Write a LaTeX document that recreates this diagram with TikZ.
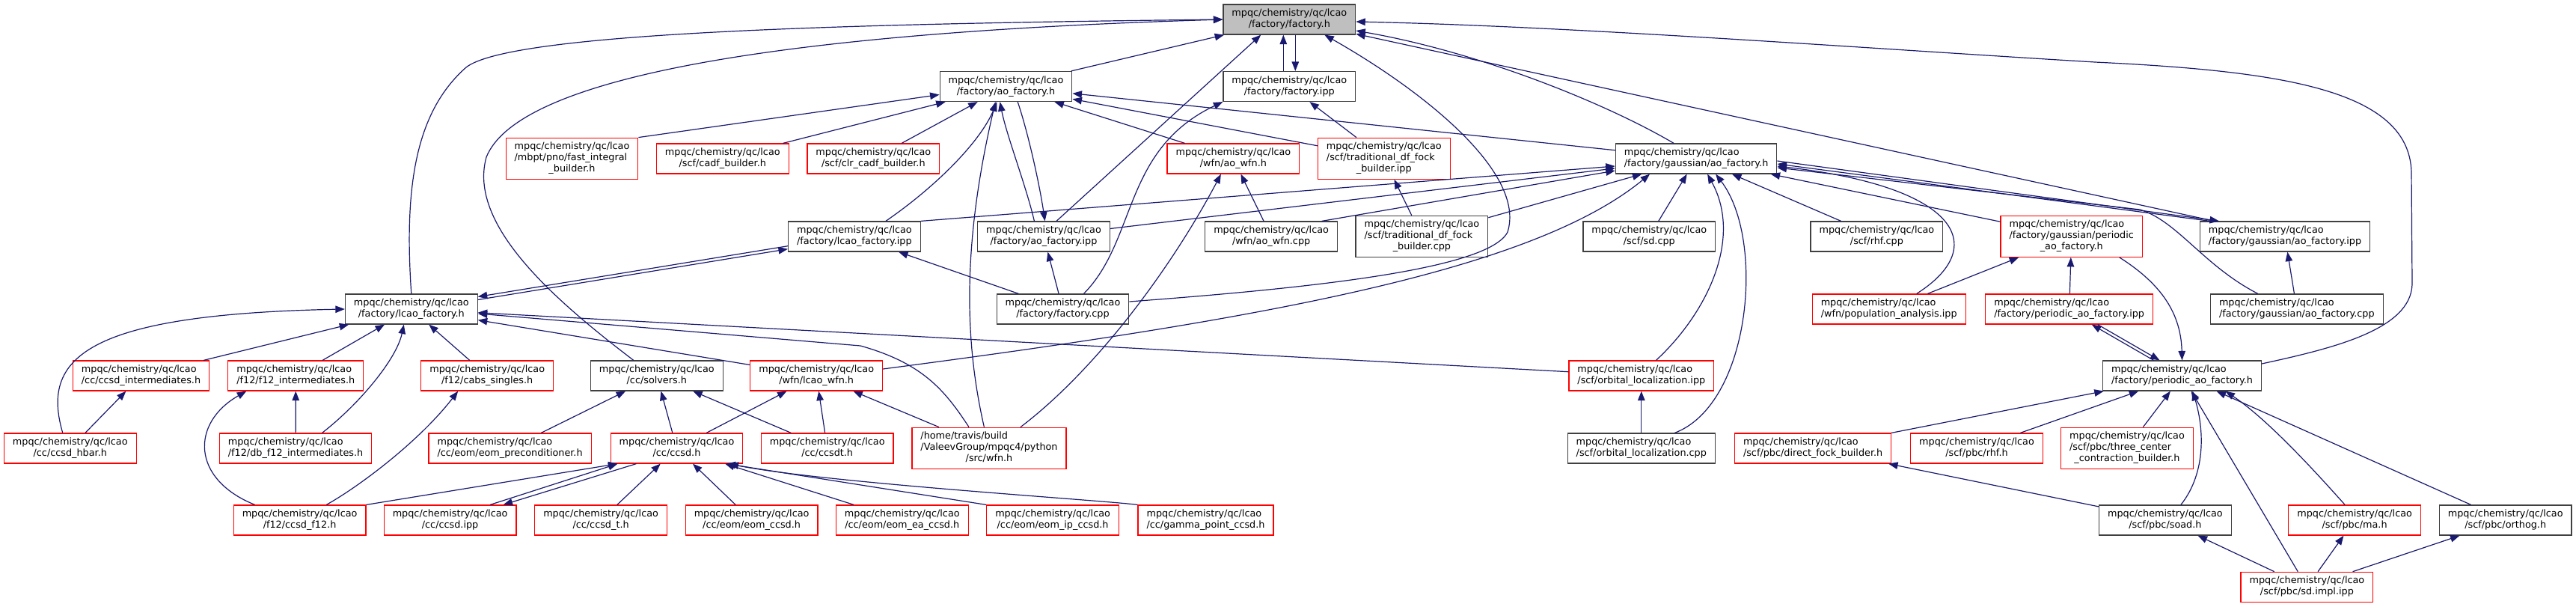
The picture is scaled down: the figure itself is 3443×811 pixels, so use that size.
\documentclass[tikz,border=0pt]{standalone}
\usepackage{fontspec}
\setmainfont{DejaVu Sans}
\usepackage{tikz}
\usetikzlibrary{arrows.meta}
\definecolor{edgec}{RGB}{25,25,112}
\newcommand{\flab}[1]{\begin{tabular}{@{}l@{}}mpqc/chemistry/qc/lcao\\\multicolumn{1}{@{}c@{}}{#1}\end{tabular}}
\newcommand{\flabc}[3]{\begin{tabular}{@{}l@{}}#1\\#2\\\multicolumn{1}{@{}c@{}}{#3}\end{tabular}}
\begin{document}
\begin{tikzpicture}[x=1pt,y=-1pt,
  box/.style={draw=black!75,fill=white,line width=1.2pt,inner xsep=11.5pt,inner ysep=5pt,font=\fontsize{12.8}{15}\selectfont},
  rbox/.style={box,draw=red},
  root/.style={box,fill=black!25},
  inc/.style={draw=edgec,line width=1.2pt,-{Triangle[length=12.5pt,width=9.5pt]}}]
\useasboundingbox (0,0) rectangle (3443,811);
% row 0 to 2
\node[root] (fac) at (1723.3,26) {\flab{/factory/factory.h}};
\node[box] (aof) at (1344.5,115.5) {\flab{/factory/ao\_factory.h}};
\node[box] (facipp) at (1723.3,115.5) {\flab{/factory/factory.ipp}};
\node[rbox] (fib) at (764.5,211.7) {\flabc{mpqc/chemistry/qc/lcao}{/mbpt/pno/fast\_integral}{\_builder.h}};
\node[rbox] (cadf) at (965.8,212) {\flab{/scf/cadf\_builder.h}};
\node[rbox] (clr) at (1167.3,212) {\flab{/scf/clr\_cadf\_builder.h}};
\node[rbox] (aowfn) at (1648.4,212) {\flab{/wfn/ao\_wfn.h}};
\node[rbox] (tdfipp) at (1849.8,211.7) {\flabc{mpqc/chemistry/qc/lcao}{/scf/traditional\_df\_fock}{\_builder.ipp}};
\node[box] (gaof) at (2267.1,212) {\flab{/factory/gaussian/ao\_factory.h}};
% row 3
\node[box] (lcaoipp) at (1141.9,316) {\flab{/factory/lcao\_factory.ipp}};
\node[box] (aoipp) at (1395,316) {\flab{/factory/ao\_factory.ipp}};
\node[box] (aowfncpp) at (1699.1,316) {\flab{/wfn/ao\_wfn.cpp}};
\node[box] (tdfcpp) at (1900.4,315.8) {\flabc{mpqc/chemistry/qc/lcao}{/scf/traditional\_df\_fock}{\_builder.cpp}};
\node[box] (sdcpp) at (2204.3,316) {\flab{/scf/sd.cpp}};
\node[box] (rhfcpp) at (2508.4,316) {\flab{/scf/rhf.cpp}};
\node[rbox] (gpaof) at (2768.7,315.8) {\flabc{mpqc/chemistry/qc/lcao}{/factory/gaussian/periodic}{\_ao\_factory.h}};
\node[box] (gaipp) at (3054,316) {\flab{/factory/gaussian/ao\_factory.ipp}};
% row 4
\node[box] (lcaof) at (549.8,413) {\flab{/factory/lcao\_factory.h}};
\node[box] (fcpp) at (1420.5,413) {\flab{/factory/factory.cpp}};
\node[rbox] (popipp) at (2524.7,413) {\flab{/wfn/population\_analysis.ipp}};
\node[rbox] (paofipp) at (2765.7,413) {\flab{/factory/periodic\_ao\_factory.ipp}};
\node[box] (gacpp) at (3069.8,413) {\flab{/factory/gaussian/ao\_factory.cpp}};
% row 5
\node[rbox] (ccsdint) at (188.5,502) {\flab{/cc/ccsd\_intermediates.h}};
\node[rbox] (f12int) at (395.3,502) {\flab{/f12/f12\_intermediates.h}};
\node[rbox] (cabs) at (651.2,502) {\flab{/f12/cabs\_singles.h}};
\node[box] (solv) at (877.8,502) {\flab{/cc/solvers.h}};
\node[rbox] (lcaowfn) at (1091.2,502) {\flab{/wfn/lcao\_wfn.h}};
\node[rbox] (orbipp) at (2193.8,502) {\flab{/scf/orbital\_localization.ipp}};
\node[box] (paof) at (2916.5,502) {\flab{/factory/periodic\_ao\_factory.h}};
% row 6
\node[rbox] (hbar) at (93.8,599) {\flab{/cc/ccsd\_hbar.h}};
\node[rbox] (dbf12) at (395.1,599) {\flab{/f12/db\_f12\_intermediates.h}};
\node[rbox] (eomprec) at (681.6,599) {\flab{/cc/eom/eom\_preconditioner.h}};
\node[rbox] (ccsd) at (904.5,599) {\flab{/cc/ccsd.h}};
\node[rbox] (ccsdt) at (1105.7,599) {\flab{/cc/ccsdt.h}};
\node[rbox] (pywfn) at (1322,598.7) {\flabc{/home/travis/build}{/ValeevGroup/mpqc4/python}{/src/wfn.h}};
\node[box] (orbcpp) at (2193.8,599) {\flab{/scf/orbital\_localization.cpp}};
\node[rbox] (dfb) at (2423.1,599) {\flab{/scf/pbc/direct\_fock\_builder.h}};
\node[rbox] (pbcrhf) at (2642,599) {\flab{/scf/pbc/rhf.h}};
\node[rbox] (tcc) at (2843,598.7) {\flabc{mpqc/chemistry/qc/lcao}{/scf/pbc/three\_center}{\_contraction\_builder.h}};
% row 7 and 8
\node[rbox] (ccsdf12) at (400.6,695) {\flab{/f12/ccsd\_f12.h}};
\node[rbox] (ccsdipp) at (601.6,695) {\flab{/cc/ccsd.ipp}};
\node[rbox] (ccsdpt) at (803.1,695) {\flab{/cc/ccsd\_t.h}};
\node[rbox] (eomccsd) at (1004.6,695) {\flab{/cc/eom/eom\_ccsd.h}};
\node[rbox] (eomea) at (1205.8,695) {\flab{/cc/eom/eom\_ea\_ccsd.h}};
\node[rbox] (eomip) at (1407.1,695) {\flab{/cc/eom/eom\_ip\_ccsd.h}};
\node[rbox] (gamma) at (1611.5,695) {\flab{/cc/gamma\_point\_ccsd.h}};
\node[box] (soad) at (2893.9,695) {\flab{/scf/pbc/soad.h}};
\node[rbox] (mah) at (3147.1,695) {\flab{/scf/pbc/ma.h}};
\node[box] (orthog) at (3348.7,695) {\flab{/scf/pbc/orthog.h}};
\node[rbox] (sdimpl) at (3083.4,784.3) {\flab{/scf/pbc/sd.impl.ipp}};
% includes of factory.h
\draw[inc] (lcaof.north) .. controls (540,250) and (555,150) .. (623,90) .. controls (680,45) and (1100,32) .. (fac.west);
\draw[inc] ([xshift=-31pt]solv.north) .. controls (740,400) and (625,300) .. (650,210) .. controls (690,110) and (1000,45) .. (fac.west);
\draw[inc] (aof) -- (fac);
\draw[inc] ([xshift=17pt]aoipp.north) -- ([xshift=-38pt]fac.south);
\draw[inc] ([xshift=-8pt]facipp.north) -- ([xshift=-8pt]fac.south);
\draw[inc] ([xshift=8pt]fac.south) -- ([xshift=8pt]facipp.north);
\draw[inc] ([yshift=10pt]fcpp.east) .. controls (1750,385) and (1990,360) .. (2015,310) .. controls (2040,230) and (1900,120) .. ([xshift=47pt]fac.south);
\draw[inc] ([xshift=-30pt]gaof.north) .. controls (2150,140) and (1980,70) .. ([yshift=-15pt]fac.east);
\draw[inc] (gaipp) -- (fac);
\draw[inc] ([yshift=16pt]paof.east) .. controls (3120,465) and (3222,440) .. (3224,380) -- (3223,230) .. controls (3220,120) and (3050,95) .. (2800,83) .. controls (2500,65) and (2100,35) .. ([yshift=-3pt]fac.east);
% ao_factory.h and factory.ipp
\draw[inc] (fib.north east) -- ([yshift=-11pt]aof.west);
\draw[inc] (cadf) -- (aof);
\draw[inc] (clr) -- (aof);
\draw[inc] (aowfn) -- (aof);
\draw[inc] (gaof) -- (aof);
\draw[inc] (tdfipp) -- (aof);
\draw[inc] ([xshift=-12.6pt]aoipp.north) .. controls (1372,250) and (1345,180) .. ([xshift=-8pt]aof.south);
\draw[inc] ([xshift=15.7pt]aof.south) .. controls (1375,180) and (1390,250) .. ([xshift=1.6pt]aoipp.north);
\draw[inc] ([xshift=42pt]lcaoipp.north) .. controls (1250,250) and (1310,190) .. ([xshift=-12pt]aof.south);
\draw[inc] ([xshift=-6.6pt]pywfn.north) .. controls (1290,460) and (1285,330) .. ([xshift=-14pt]aof.south);
\draw[inc] (tdfipp) -- (facipp);
\draw[inc] ([xshift=28pt]fcpp.north) .. controls (1520,320) and (1500,200) .. (facipp.south west);
\draw[inc] (fcpp) -- (aoipp);
\draw[inc] (fcpp) -- (lcaoipp);
\draw[inc] (aowfncpp) -- (aowfn);
\draw[inc] ([xshift=42pt]pywfn.north) .. controls (1470,490) and (1570,350) .. ([xshift=-16.5pt]aowfn.south);
\draw[inc] (tdfcpp) -- (tdfipp);
% gaussian/ao_factory.h
\draw[inc] (lcaoipp.north east) -- ([yshift=-10pt]gaof.west);
\draw[inc] (aoipp) -- (gaof);
\draw[inc] ([xshift=67.6pt]aowfncpp.north) -- ([yshift=-16pt]gaof.west);
\draw[inc] (tdfcpp) -- (gaof);
\draw[inc] ([yshift=9pt]lcaowfn.east) .. controls (1700,425) and (2050,360) .. ([xshift=-62pt]gaof.south);
\draw[inc] (sdcpp) -- (gaof);
\draw[inc] (rhfcpp) -- (gaof);
\draw[inc] ([xshift=19.6pt]orbipp.north) .. controls (2280,420) and (2330,320) .. ([xshift=15pt]gaof.south);
\draw[inc] ([xshift=44.5pt]orbcpp.north) .. controls (2340,540) and (2360,320) .. ([xshift=26pt]gaof.south);
\draw[inc] ([xshift=37pt]popipp.north) .. controls (2660,330) and (2620,250) .. ([yshift=-10pt]gaof.east);
\draw[inc] (gpaof) -- (gaof);
\draw[inc] ([xshift=-100pt]gaipp.north) -- ([yshift=-7pt]gaof.east);
\draw[inc] ([yshift=-3pt]gaof.east) -- ([xshift=-88pt]gaipp.north);
\draw[inc] ([xshift=-52pt]gacpp.north) .. controls (2945,355) and (2910,295) .. (2860,280) -- ([yshift=-12pt]gaof.east);
\draw[inc] (gacpp) -- (gaipp);
% periodic factories
\draw[inc] (popipp) -- (gpaof);
\draw[inc] (paofipp) -- (gpaof);
\draw[inc] ([xshift=64pt]gpaof.south) .. controls (2890,380) and (2915,420) .. (paof.north);
\draw[inc] ([xshift=38pt]paofipp.south) -- ([xshift=-30pt]paof.north);
\draw[inc] ([xshift=-38pt]paof.north) -- ([xshift=30pt]paofipp.south);
\draw[inc] (dfb) -- (paof);
\draw[inc] (pbcrhf) -- (paof);
\draw[inc] (tcc) -- (paof);
\draw[inc] ([xshift=21pt]soad.north) .. controls (2950,630) and (2945,570) .. ([xshift=14pt]paof.south);
\draw[inc] (sdimpl) -- (paof);
\draw[inc] ([xshift=-13pt]mah.north) .. controls (3090,625) and (3030,560) .. ([xshift=58pt]paof.south);
\draw[inc] (orthog) -- (paof);
\draw[inc] (soad) -- (dfb);
\draw[inc] (sdimpl) -- (soad);
\draw[inc] (sdimpl) -- (mah);
\draw[inc] (sdimpl) -- (orthog);
% orbital localization
\draw[inc] (orbcpp) -- (orbipp);
\draw[inc] (orbipp) -- (lcaof);
% lcao_factory.h
\draw[inc] ([yshift=-12.7pt]lcaoipp.west) -- ([yshift=16.5pt]lcaof.east);
\draw[inc] ([yshift=12.5pt]lcaof.east) -- ([yshift=-16.7pt]lcaoipp.west);
\draw[inc] (lcaowfn) -- (lcaof);
\draw[inc] ([xshift=-27pt]pywfn.north) .. controls (1262,520) and (1232,485) .. (1150,462) -- ([yshift=-6pt]lcaof.east);
\draw[inc] ([xshift=-10pt]hbar.north) .. controls (55,480) and (110,420) .. (lcaof.west);
\draw[inc] (ccsdint) -- (lcaof);
\draw[inc] (f12int) -- (lcaof);
\draw[inc] ([xshift=35.4pt]dbf12.north) .. controls (480,540) and (530,480) .. ([xshift=-10pt]lcaof.south);
\draw[inc] (cabs) -- (lcaof);
\draw[inc] (dbf12) -- (f12int);
\draw[inc] (hbar) -- (ccsdint);
\draw[inc] ([xshift=-60pt]ccsdf12.north) .. controls (255,640) and (255,565) .. ([xshift=-66pt]f12int.south);
\draw[inc] ([xshift=35.7pt]ccsdf12.north) .. controls (480,650) and (560,590) .. ([xshift=-39pt]cabs.south);
\draw[inc] (ccsdf12.north east) -- ([xshift=-79pt]ccsd.south);
% solvers.h, lcao_wfn.h, ccsd.h
\draw[inc] (eomprec) -- (solv);
\draw[inc] (ccsd) -- (solv);
\draw[inc] (ccsdt) -- (solv);
\draw[inc] (ccsd) -- (lcaowfn);
\draw[inc] (ccsdt) -- (lcaowfn);
\draw[inc] (pywfn) -- (lcaowfn);
\draw[inc] ([xshift=53.5pt]ccsdipp.north) -- ([xshift=-79pt]ccsd.south);
\draw[inc] ([xshift=-54pt]ccsd.south) -- ([xshift=71pt]ccsdipp.north);
\draw[inc] (ccsdpt) -- (ccsd);
\draw[inc] (eomccsd) -- (ccsd);
\draw[inc] (eomea) -- (ccsd);
\draw[inc] (eomip.north west) -- ([xshift=66pt]ccsd.south);
\draw[inc] (gamma.north west) .. controls (1470,668) and (1100,645) .. ([xshift=70pt]ccsd.south);
\end{tikzpicture}
\end{document}
